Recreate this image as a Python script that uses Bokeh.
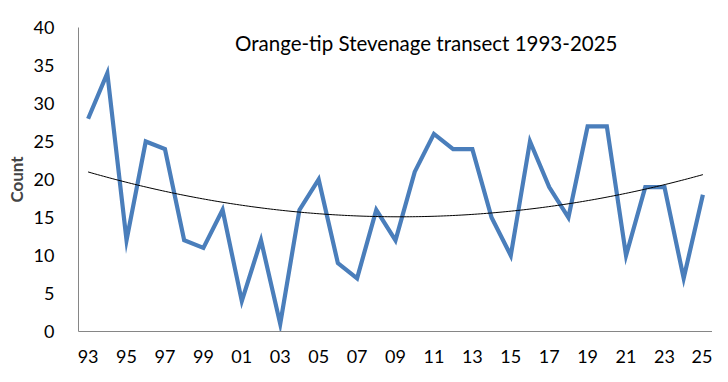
import numpy as np
from bokeh.plotting import figure
from bokeh.models import Range1d, FixedTicker
from bokeh.core.properties import value
from bokeh.embed import file_html
from bokeh.resources import INLINE

years = list(range(1993, 2026))
counts = [28, 34, 12, 25, 24, 12, 11, 16, 4, 12, 1, 16, 20, 9, 7, 16, 12,
          21, 26, 24, 24, 15, 10, 25, 19, 15, 27, 27, 10, 19, 19, 7, 18]
tick_years = list(range(1993, 2026, 2))
tick_labels = ["93", "95", "97", "99", "01", "03", "05", "07", "09",
               "11", "13", "15", "17", "19", "21", "23", "25"]
y_ticks = [0, 5, 10, 15, 20, 25, 30, 35, 40]
title_text = "Orange-tip Stevenage transect 1993-2025"

FONT = "Lato"

p = figure(width=712, height=366, output_backend="svg", toolbar_location=None,
           x_range=Range1d(1992.5, 2025.5), y_range=Range1d(0, 40),
           min_border_left=78, min_border_right=0, min_border_top=27,
           min_border_bottom=35)
p.outline_line_color = None
p.grid.visible = False
p.background_fill_color = "white"

# data line
p.line(years, counts, line_color="#4A7EBB", line_width=4.2, line_join="miter")

# polynomial (order 2) trend line fitted to the data
coef = np.polyfit(np.array(years) - 1993, counts, 2)
xs = np.linspace(1993, 2025, 200)
p.line(xs, np.polyval(coef, xs - 1993), line_color="black", line_width=1)

# axes
p.xaxis.ticker = FixedTicker(ticks=tick_years)
p.xaxis.major_label_overrides = {y: l for y, l in zip(tick_years, tick_labels)}
p.yaxis.ticker = FixedTicker(ticks=y_ticks)
for ax in (p.xaxis[0], p.yaxis[0]):
    ax.axis_line_color = "#868686"
    ax.major_tick_line_color = None
    ax.minor_tick_line_color = None
    ax.major_label_text_font = FONT
    ax.major_label_text_font_size = "18px"
    ax.major_label_text_color = "black"
p.xaxis.major_label_standoff = 12
p.yaxis.major_label_standoff = 18
p.yaxis.axis_label = "Count"
p.yaxis.axis_label_text_font = FONT
p.yaxis.axis_label_text_font_style = "bold"
p.yaxis.axis_label_text_font_size = "17px"
p.yaxis.axis_label_standoff = 4

p.text(x=[2010.6], y=[38.0], text=[title_text], text_font=value(FONT),
       text_font_size="20.5px", text_align="center", text_baseline="middle",
       text_color="black")

open("out.html", "w").write(file_html(p, INLINE))
